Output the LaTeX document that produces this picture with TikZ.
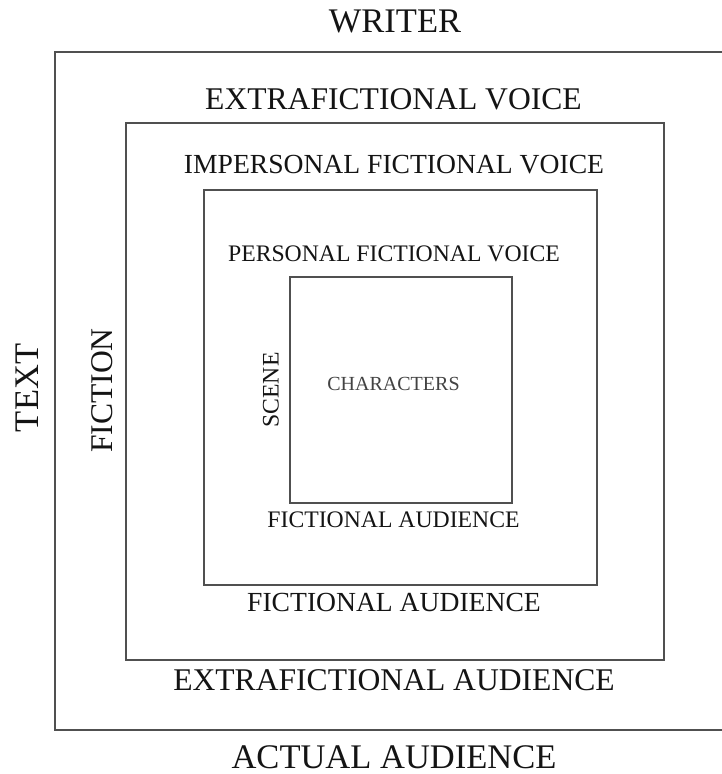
\documentclass[tikz,border=0pt]{standalone}
\usepackage{fontspec}
\setmainfont{Liberation Serif}
\usepackage{tikz}
\usetikzlibrary{shadows}
\definecolor{frameline}{RGB}{80,80,80}
\definecolor{labeltext}{RGB}{20,20,20}

\begin{document}
\begin{tikzpicture}[
    x=1pt, y=1pt,
    frame/.style={rectangle, draw=frameline, line width=1.6pt, fill=white, inner sep=0pt,
        drop shadow={shadow xshift=1pt, shadow yshift=-1.5pt, opacity=0.2}},
    lbl/.style={inner sep=0pt, text=labeltext},
    sizeA/.style={lbl, font={\fontsize{34.5}{40}\selectfont}},
    sizeB/.style={lbl, font={\fontsize{31.6}{37}\selectfont}},
    sizeC/.style={lbl, font={\fontsize{27.6}{33}\selectfont}},
    sizeD/.style={lbl, font={\fontsize{23.7}{28}\selectfont}},
    sizeE/.style={lbl, font={\fontsize{20}{24}\selectfont}}
]
\useasboundingbox (0,0) rectangle (721,774);

% nested frames
\node[frame, minimum width=669pt, minimum height=678pt] (textbox) at (389.5,383) {};
\node[frame, minimum width=538pt, minimum height=537pt] (fictionbox) at (395,382.5) {};
\node[frame, minimum width=393pt, minimum height=395pt] (voicebox) at (400.5,386.5) {};
\node[frame, minimum width=222pt, minimum height=226pt] (scenebox) at (401,384) {};

% labels
\node[sizeA] (writer) at (395,752.5) {WRITER};
\node[sizeB] (extravoice) at (393.5,675) {EXTRAFICTIONAL VOICE};
\node[sizeC] (impvoice) at (394,609) {IMPERSONAL FICTIONAL VOICE};
\node[sizeD] (persvoice) at (394,520) {PERSONAL FICTIONAL VOICE};
\node[sizeE, text=labeltext!80] (characters) at (393.5,390) {CHARACTERS};
\node[sizeD] (innerfa) at (393.5,254.5) {FICTIONAL AUDIENCE};
\node[sizeC] (fictaud) at (394,171.5) {FICTIONAL AUDIENCE};
\node[sizeB] (extraaud) at (394,93.5) {EXTRAFICTIONAL AUDIENCE};
\node[sizeA] (actual) at (394,16.5) {ACTUAL AUDIENCE};

\node[sizeA, rotate=90] (text) at (27,386) {TEXT};
\node[sizeB, rotate=90] (fiction) at (102.5,383.5) {FICTION};
\node[sizeD, rotate=90] (scene) at (271,384) {SCENE};

\end{tikzpicture}
\end{document}
